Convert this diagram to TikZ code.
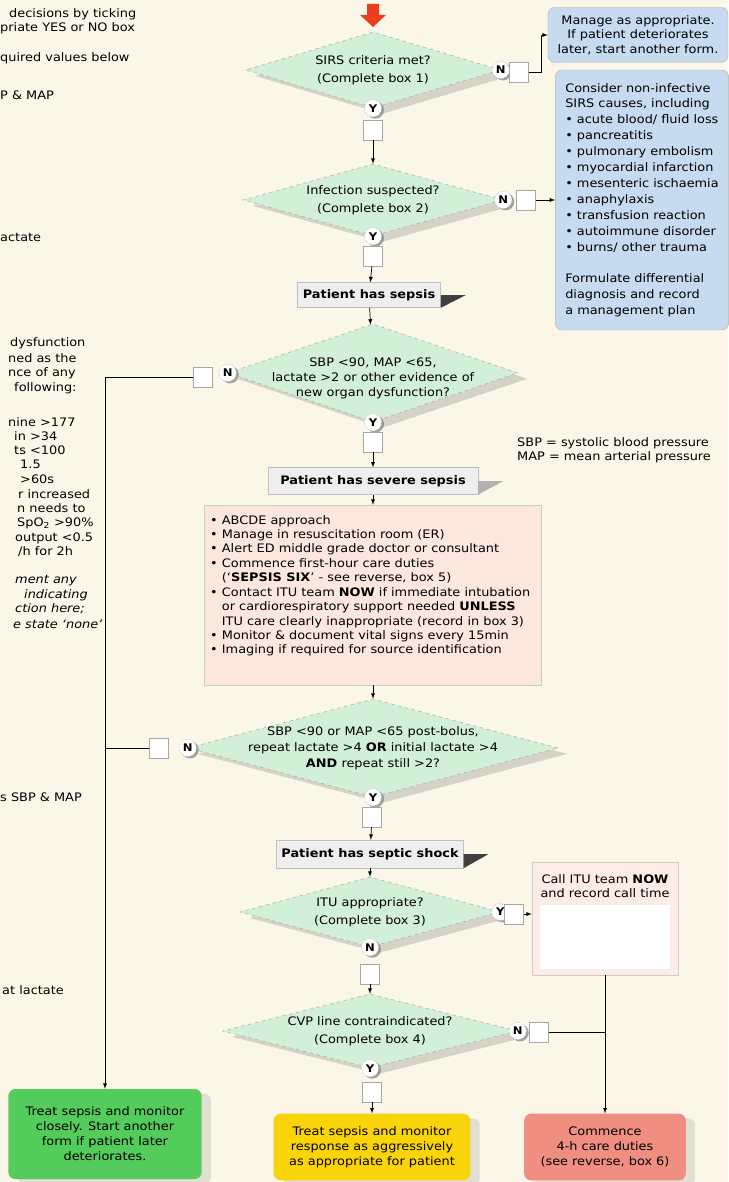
\documentclass[tikz,border=0pt]{standalone}
\usepackage{fontspec}
\setmainfont{DejaVu Sans}[FakeStretch=1.1]
\usetikzlibrary{shapes.geometric,shadows}
\definecolor{paper}{RGB}{250,247,232}
\definecolor{mint}{RGB}{210,240,216}
\definecolor{skyblue}{RGB}{198,219,240}
\definecolor{blush}{RGB}{252,231,223}
\definecolor{boxgray}{RGB}{238,238,238}
\definecolor{okgreen}{RGB}{84,204,92}
\definecolor{amber}{RGB}{250,212,10}
\definecolor{salmon}{RGB}{240,142,130}
\definecolor{alarm}{RGB}{232,64,28}
\tikzset{
  decision/.style={diamond, draw=gray!70, dashed, fill=mint, inner sep=0pt,
    drop shadow={shadow xshift=8pt, shadow yshift=-5pt, opacity=.3}},
  query/.style={align=center, inner sep=0pt, font=\fontsize{10}{#1}\selectfont},
  query/.default=15.5pt,
  yn/.style={circle, draw=gray!80, densely dotted, fill=white, inner sep=0pt,
    minimum size=0.52cm, font=\bfseries\fontsize{9}{9}\selectfont,
    drop shadow={shadow xshift=2pt, shadow yshift=-1.5pt, opacity=.7}},
  tickbox/.style={draw=gray!70, fill=white, inner sep=0pt,
    minimum width=0.57cm, minimum height=0.6cm},
  stage/.style={draw=gray!50, fill=boxgray, inner sep=0pt, font=\bfseries},
  advice/.style={rounded corners=6pt, draw=gray!60, fill=skyblue, inner sep=3pt},
  outcome/.style={rounded corners=6pt, align=center, inner sep=0pt,
    font=\fontsize{10}{12.8}\selectfont,
    drop shadow={shadow xshift=8pt, shadow yshift=-4pt, opacity=.2}},
  margin/.style={anchor=west, inner sep=0pt},
  flow/.style={-latex, line width=0.6pt},
}
\begin{document}
\begin{tikzpicture}[x=0.03cm, y=-0.03cm, font=\fontsize{10}{12.3}\selectfont]
  \fill[paper] (0,0) rectangle (728,1182);
  \useasboundingbox (0,0) rectangle (728,1182);
  % start arrow
  \fill[alarm] (367,4) -- (379,4) -- (379,15) -- (386,15) -- (373,27)
    -- (360,15) -- (367,15) -- cycle;

  % notes cut off at the left edge
  \node[margin] (l1) at (9,14) {decisions by ticking};
  \node[margin] (l2) at (0,28) {priate YES or NO box};
  \node[margin] (l3) at (0,58) {quired values below};
  \node[margin] (l4) at (0,95) {P \& MAP};
  \node[margin] (l5) at (0,237) {actate};
  \node[margin] (l6) at (10,343) {dysfunction};
  \node[margin] (l7) at (8,358) {ned as the};
  \node[margin] (l8) at (8,373) {nce of any};
  \node[margin] (l9) at (14,388) {following:};
  \node[margin] (l10) at (8,422) {nine >177};
  \node[margin] (l11) at (14,436) {in >34};
  \node[margin] (l12) at (14,450) {ts <100};
  \node[margin] (l13) at (20,464) {1.5};
  \node[margin] (l14) at (20,479) {>60s};
  \node[margin] (l15) at (18,494) {r increased};
  \node[margin] (l16) at (17,508) {n needs to};
  \node[margin] (l17) at (17,523) {SpO\textsubscript{2} >90\%};
  \node[margin] (l18) at (15,538) {output <0.5};
  \node[margin] (l19) at (18,552) {/h for 2h};
  \node[margin] (l20) at (15,581) {\itshape ment any};
  \node[margin] (l21) at (24,595) {\itshape indicating};
  \node[margin] (l22) at (15,609) {\itshape ction here;};
  \node[margin] (l23) at (13,624) {\itshape e state ‘none’};
  \node[margin] (l24) at (0,797) {s SBP \& MAP};
  \node[margin] (l25) at (2,990) {at lactate};

  % SIRS
  \node[decision, minimum width=7.65cm, minimum height=2.28cm] (d1) at (373,70) {};
  \node[query] (q1) at (d1) {SIRS criteria met?\\(Complete box 1)};
  \node[yn] (y1) at (d1.south) {Y};
  \node[yn] (n1) at (d1.east) {N};
  \node[tickbox] (t1n) at (519,72) {};
  \node[tickbox] (t1y) at (373,130) {};
  \node[advice, align=center, minimum width=5.4cm, minimum height=1.65cm]
    (m1) at (638,35) {Manage as appropriate.\\If patient deteriorates\\later, start another form.};

  % infection
  \node[decision, minimum width=7.8cm, minimum height=2.16cm] (d2) at (373,200) {};
  \node[query] (q2) at (d2) {Infection suspected?\\(Complete box 2)};
  \node[yn] (y2) at (d2.south) {Y};
  \node[yn] (n2) at (d2.east) {N};
  \node[tickbox] (t2n) at (526,200) {};
  \node[tickbox] (t2y) at (373,256) {};
  \node[advice, align=left, font=\fontsize{10}{13.6}\selectfont,
    minimum width=5.2cm, minimum height=7.8cm] (m2) at (642,200)
    {Consider non-infective\\SIRS causes, including\\• acute blood/ fluid loss\\
     • pancreatitis\\• pulmonary embolism\\• myocardial infarction\\
     • mesenteric ischaemia\\• anaphylaxis\\• transfusion reaction\\
     • autoimmune disorder\\• burns/ other trauma\\[13pt]
     Formulate differential\\diagnosis and record\\a management plan};

  \node[stage, minimum width=4.3cm, minimum height=0.75cm] (sepsis) at (369,295)
    {Patient has sepsis};
  \fill[black!75] (sepsis.east) -- ++(25,0) -- (sepsis.south east) -- cycle;

  % organ dysfunction
  \node[decision, minimum width=8.7cm, minimum height=2.94cm] (d3) at (373,373) {};
  \node[query=12.8pt] (q3) at (373,378)
    {SBP <90, MAP <65,\\lactate >2 or other evidence of\\new organ dysfunction?};
  \node[yn] (y3) at (d3.south) {Y};
  \node[yn] (n3) at (d3.west) {N};
  \node[tickbox] (t3n) at (203,377) {};
  \node[tickbox] (t3y) at (373,442) {};
  \node[margin, align=left] (abbr) at (517,450)
    {SBP = systolic blood pressure\\MAP = mean arterial pressure};

  \node[stage, minimum width=6.3cm, minimum height=0.8cm] (severe) at (373,481)
    {Patient has severe sepsis};
  \fill[gray!60] (severe.east) -- ++(25,0) -- (severe.south east) -- cycle;

  % first hour
  \node[draw=gray!40, fill=blush, minimum width=10.1cm, minimum height=5.4cm,
    inner sep=0pt] (duties) at (373,595) {};
  \node[anchor=north west, align=left, inner sep=0pt] (dutytext) at (210,515)
    {• ABCDE approach\\
     • Manage in resuscitation room (ER)\\
     • Alert ED middle grade doctor or consultant\\
     • Commence first-hour care duties\\
     \hphantom{• }(‘\textbf{SEPSIS SIX}’ - see reverse, box 5)\\
     • Contact ITU team \textbf{NOW} if immediate intubation\\
     \hphantom{• }or cardiorespiratory support needed \textbf{UNLESS}\\
     \hphantom{• }ITU care clearly inappropriate (record in box 3)\\
     • Monitor \& document vital signs every 15min\\
     • Imaging if required for source identification};

  % shock
  \node[decision, minimum width=11.1cm, minimum height=2.94cm] (d4) at (373,748) {};
  \node[query=13.6pt] (q4) at (d4)
    {SBP <90 or MAP <65 post-bolus,\\repeat lactate >4 \textbf{OR} initial lactate >4\\
     \textbf{AND} repeat still >2?};
  \node[yn] (y4) at (d4.south) {Y};
  \node[yn] (n4) at (d4.west) {N};
  \node[tickbox] (t4n) at (159,748) {};
  \node[tickbox] (t4y) at (372,817) {};

  \node[stage, minimum width=5.6cm, minimum height=0.84cm] (shock) at (370,854)
    {Patient has septic shock};
  \fill[black!75] (shock.east) -- ++(25,0) -- (shock.south east) -- cycle;

  % ITU
  \node[decision, minimum width=7.8cm, minimum height=2.1cm] (d5) at (370,912) {};
  \node[query] (q5) at (d5) {ITU appropriate?\\(Complete box 3)};
  \node[yn] (y5) at (d5.east) {Y};
  \node[yn] (n5) at (d5.south) {N};
  \node[tickbox] (t5y) at (514,914) {};
  \node[tickbox] (t5n) at (370,974) {};
  \node[draw=gray!40, fill=blush!80, minimum width=4.38cm, minimum height=3.39cm,
    inner sep=0pt] (call) at (605,918.5) {};
  \node[align=center, inner sep=0pt] (calltext) at (605,886)
    {Call ITU team \textbf{NOW}\\and record call time};
  \node[fill=white, minimum width=3.9cm, minimum height=1.9cm, inner sep=0pt]
    (callpad) at (605,937) {};

  % CVP
  \node[decision, minimum width=8.85cm, minimum height=2.22cm] (d6) at (370,1031) {};
  \node[query] (q6) at (d6) {CVP line contraindicated?\\(Complete box 4)};
  \node[yn] (y6) at (d6.south) {Y};
  \node[yn] (n6) at (d6.east) {N};
  \node[tickbox] (t6n) at (539,1032) {};
  \node[tickbox] (t6y) at (372,1092) {};

  % outcomes
  \node[outcome, fill=okgreen, minimum width=5.8cm, minimum height=2.7cm]
    (treat) at (105,1134) {Treat sepsis and monitor\\closely. Start another\\
    form if patient later\\deteriorates.};
  \node[outcome, fill=amber, minimum width=5.9cm, minimum height=2cm]
    (watch) at (372,1147) {Treat sepsis and monitor\\response as aggressively\\
    as appropriate for patient};
  \node[outcome, fill=salmon, minimum width=4.85cm, minimum height=2cm]
    (commence) at (605,1147) {Commence\\4-h care duties\\(see reverse, box 6)};

  % connectors
  \draw[flow] (t1n.east) -- ++(13,0) |- (m1.west);
  \draw[flow] (t1y) -- (d2);
  \draw[flow] (t2n) -- (m2);
  \draw[flow] (t2y) -- (sepsis);
  \draw[flow] (sepsis) -- (d3);
  \draw[flow] (t3y) -- (severe);
  \draw[flow] (severe) -- (duties);
  \draw[flow] (duties) -- (d4);
  \draw[flow] (t4y) -- (shock);
  \draw[flow] (shock) -- (d5);
  \draw[flow] (t5n) -- (d6);
  \draw[flow] (t5y.east) -- (t5y.east -| call.west);
  \draw[flow] (t6y) -- (watch);
  \draw[flow] (call.south) -- (commence.north);
  \draw (t6n.east) -- (t6n.east -| call.south);
  \draw[flow] (t3n.west) -- (t3n.west -| treat.north) -- (treat.north);
  \draw (t4n.west) -- (t4n.west -| treat.north);
\end{tikzpicture}
\end{document}
